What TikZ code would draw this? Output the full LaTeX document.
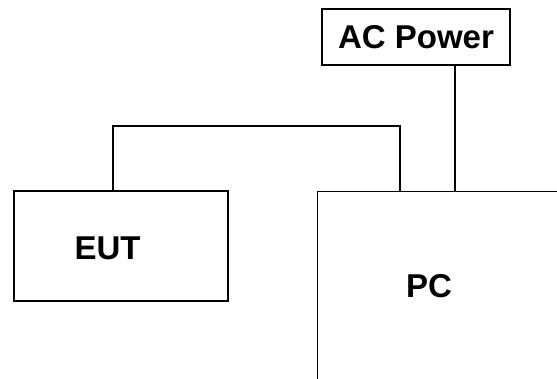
\documentclass[tikz,border=0pt]{standalone}
\usepackage{fontspec}
\setmainfont{Liberation Sans}
\begin{document}
\begin{tikzpicture}[x=1pt,y=-1pt,
  unit/.style={draw, line width=1.4pt, inner sep=0pt},
  lbl/.style={font=\fontsize{33}{36}\selectfont\bfseries, inner sep=0pt},
  wire/.style={line width=1.4pt}]
\useasboundingbox (0,0) rectangle (557,378);
\clip (0,0) rectangle (557,378);
\fill[white] (0,0) rectangle (557,378);

\node[unit, lbl, minimum width=188pt, minimum height=56pt] (acpower) at (416,37) {AC Power};
\node[unit, minimum width=214pt, minimum height=110pt] (eut) at (121,246) {};
\node[unit, minimum width=300pt, minimum height=250pt, anchor=north west] (pc) at (317,191) {};

\node[lbl] (eutlabel) at (107.5,248.5) {EUT};
\node[lbl] (pclabel) at (429,286) {PC};

\coordinate (cableleft) at (113,126);
\coordinate (cableright) at (400,126);
\coordinate (mains) at (455,100);
\draw[wire] (eut.north -| cableleft) -- (cableleft) -- (cableright) -- (pc.north -| cableright);
\draw[wire] (acpower.south -| mains) -- (pc.north -| mains);
\end{tikzpicture}
\end{document}
